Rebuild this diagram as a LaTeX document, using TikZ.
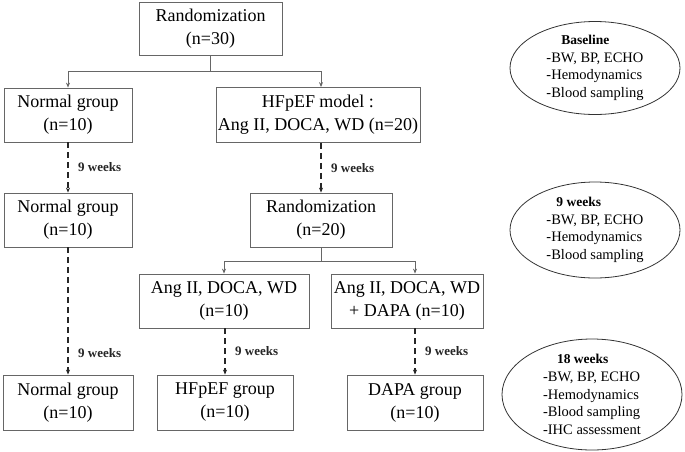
\documentclass[tikz,border=0pt]{standalone}
\usepackage{fontspec}
\setmainfont{Liberation Serif}
\usetikzlibrary{arrows.meta,shapes.geometric}

\newcommand{\notehead}[2]{\hspace*{#1}{\fontsize{13.5}{17.7}\selectfont\bfseries #2}}

\begin{document}
\begin{tikzpicture}[
    x=1pt, y=-1pt,
    >={Stealth[length=5pt,width=4pt]},
    box/.style={draw=black!60,line width=0.8pt,align=center,inner sep=0pt,
        font=\fontsize{18}{23}\selectfont},
    fork/.style={->,draw=black!60,line width=0.8pt},
    wait/.style={->,line width=1.6pt,dash pattern=on 6pt off 4pt,black!85},
    weeks/.style={right,xshift=6pt,font=\fontsize{13}{15}\selectfont\bfseries},
    note/.style={ellipse,draw=black!80,line width=0.8pt,inner sep=0pt},
    notetext/.style={align=left,inner sep=0pt,font=\fontsize{14.5}{17.7}\selectfont},
]
\useasboundingbox (0,0) rectangle (685,451);

% Groups
\node[box,minimum width=143pt,minimum height=53pt] (rand30) at (210.5,28.5) {Randomization\\(n=30)};
\node[box,minimum width=128pt,minimum height=54pt] (norm1) at (68,115) {Normal group\\(n=10)};
\node[box,minimum width=204pt,minimum height=55pt] (hfmodel) at (318,115) {HFpEF model :\\Ang II, DOCA, WD (n=20)};
\node[box,minimum width=128pt,minimum height=54pt] (norm2) at (68,220) {Normal group\\(n=10)};
\node[box,minimum width=142pt,minimum height=54pt] (rand20) at (321,220) {Randomization\\(n=20)};
\node[box,minimum width=170pt,minimum height=54pt] (angii) at (224,301) {Ang II, DOCA, WD\\(n=10)};
\node[box,minimum width=152pt,minimum height=54pt] (angdapa) at (407,301) {Ang II, DOCA, WD\\+ DAPA (n=10)};
\node[box,minimum width=130pt,minimum height=55pt] (norm3) at (68,402.5) {Normal group\\(n=10)};
\node[box,minimum width=136pt,minimum height=55pt] (hfgroup) at (225,402.5) {HFpEF group\\(n=10)};
\node[box,minimum width=136pt,minimum height=55pt] (dapagroup) at (415,402.5) {DAPA group\\(n=10)};

% Randomization splits
\draw[fork] (rand30.south) -- ++(0,16) coordinate (split1) -| (norm1.north);
\draw[fork] (split1) -| (rand20.north |- hfmodel.north);
\draw[fork] (rand20.south) -- ++(0,14) coordinate (split2) -| (angii.north);
\draw[fork] (split2) -| (dapagroup.north |- angdapa.north);

% 9 weeks periods
\draw[wait] (norm1.south) -- (norm2.north) node[weeks,midway] {9 weeks};
\draw[wait] (rand20.north |- hfmodel.south) -- (rand20.north) node[weeks,midway] {9 weeks};
\draw[wait] (norm2.south) -- (norm3.north) node[weeks,pos=0.83] {9 weeks};
\draw[wait] (hfgroup.north |- angii.south) -- (hfgroup.north) node[weeks,midway] {9 weeks};
\draw[wait] (dapagroup.north |- angdapa.south) -- (dapagroup.north) node[weeks,midway] {9 weeks};

% Measurements
\node[note,minimum width=170pt,minimum height=93pt] (base) at (595,68) {};
\node[notetext] (basetext) at (base) {\notehead{15pt}{Baseline}\\-BW, BP, ECHO\\-Hemodynamics\\-Blood sampling};
\node[note,minimum width=170pt,minimum height=96pt] (mid) at (595,230) {};
\node[notetext] (midtext) at (mid) {\notehead{10pt}{9 weeks}\\-BW, BP, ECHO\\-Hemodynamics\\-Blood sampling};
\node[note,minimum width=180pt,minimum height=111pt] (final) at (592,394.5) {};
\node[notetext] (finaltext) at (final) {\notehead{14pt}{18 weeks}\\-BW, BP, ECHO\\-Hemodynamics\\-Blood sampling\\-IHC assessment};
\end{tikzpicture}
\end{document}
